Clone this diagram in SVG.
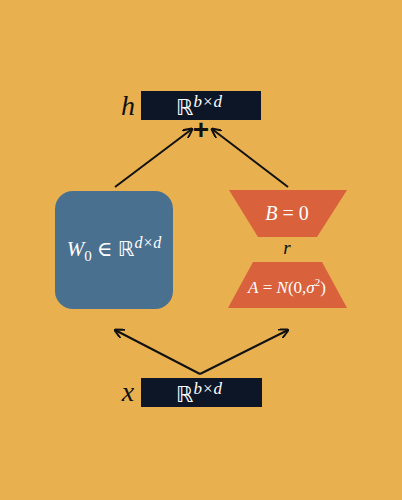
<svg xmlns="http://www.w3.org/2000/svg" width="402" height="500" viewBox="0 0 402 500">
<style>
.bar{fill:#0d1626}
.t{font-family:"Liberation Serif","DejaVu Serif",serif;fill:#fff}
.it{font-style:italic}
.lbl{font-family:"Liberation Serif","DejaVu Serif",serif;font-style:italic;fill:#111}
.trap{fill:#d9613c}
.ar{stroke:#111;stroke-width:2;fill:none;marker-end:url(#ah)}
</style>
<defs>
<marker id="ah" viewBox="0 0 10 10" refX="9" refY="5" markerWidth="5" markerHeight="5" orient="auto"><path d="M0,0 L10,5 L0,10" fill="none" stroke="#111" stroke-width="2"/></marker>
</defs>
<rect width="402" height="500" fill="#e8b04f"/>
<g id="h">
<text class="lbl" x="128" y="115" font-size="28" text-anchor="middle">h</text>
<rect class="bar" x="141" y="91" width="120" height="29"/>
<text class="t" x="199" y="115" font-size="22" text-anchor="middle"><tspan font-family="DejaVu Sans">ℝ</tspan><tspan class="it" font-size="17" dy="-8">b×d</tspan></text>
</g>
<g id="plus"><text x="201" y="139" font-family="Liberation Sans,sans-serif" font-weight="bold" font-size="28" text-anchor="middle" fill="#111">+</text></g>
<g id="W0">
<rect x="55" y="191" width="118" height="118" rx="18" fill="#4a7090"/>
<text class="t" x="114" y="256" font-size="21" text-anchor="middle"><tspan class="it">W</tspan><tspan font-size="15" dy="5">0</tspan><tspan dy="-5"> ∈ </tspan><tspan font-family="DejaVu Sans">ℝ</tspan><tspan class="it" font-size="16" dy="-8">d×d</tspan></text>
</g>
<g id="B">
<polygon class="trap" points="229,190 347,190 317,237 258,237"/>
<text class="t" x="287" y="220" font-size="20" text-anchor="middle"><tspan class="it">B</tspan> = 0</text>
</g>
<g id="r"><text class="lbl" x="287" y="254" font-size="19" text-anchor="middle">r</text></g>
<g id="A">
<polygon class="trap" points="253,262 322,262 347,308 228,308"/>
<text class="t" x="287" y="293" font-size="17" text-anchor="middle"><tspan class="it">A</tspan> = <tspan class="it">N</tspan>(0,<tspan class="it">σ</tspan><tspan font-size="11" dy="-7">2</tspan><tspan dy="7">)</tspan></text>
</g>
<g id="x">
<text class="lbl" x="128" y="401" font-size="28" text-anchor="middle">x</text>
<rect class="bar" x="141" y="378" width="121" height="29"/>
<text class="t" x="199" y="402" font-size="22" text-anchor="middle"><tspan font-family="DejaVu Sans">ℝ</tspan><tspan class="it" font-size="17" dy="-8">b×d</tspan></text>
</g>
<g id="connectors">
<line class="ar" x1="115" y1="187" x2="192" y2="129"/>
<line class="ar" x1="288" y1="187" x2="212" y2="129"/>
<line class="ar" x1="200" y1="374" x2="115" y2="330"/>
<line class="ar" x1="200" y1="374" x2="288" y2="330"/>
</g>
</svg>
